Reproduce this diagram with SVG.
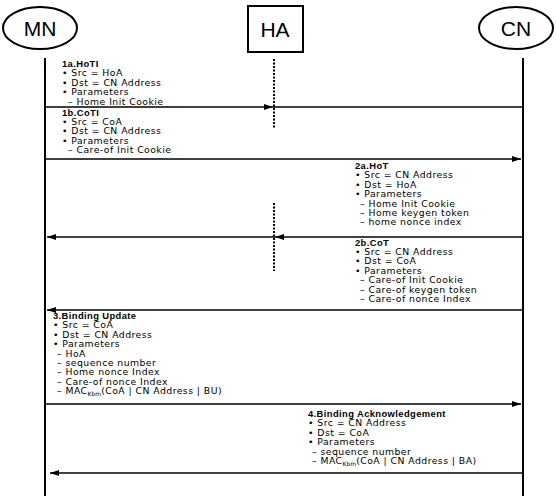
<svg xmlns="http://www.w3.org/2000/svg" width="556" height="496" viewBox="0 0 556 496">
<style>
.node{fill:#fff;stroke:#000;stroke-width:2}
.nt{font-family:"Liberation Sans",Arial,sans-serif;font-size:21px;fill:#000;text-anchor:middle}
.life{stroke:#000;stroke-width:2;fill:none}
.dot{stroke:#000;stroke-width:2;stroke-dasharray:2 1.5;fill:none}
.msg{stroke:#000;stroke-width:1.6;fill:none}
.t{font-family:"DejaVu Sans",Verdana,sans-serif;font-size:9.3px;letter-spacing:0.45px;fill:#000}
.h{font-family:"Liberation Sans",Arial,sans-serif;font-weight:bold;font-size:9.4px;letter-spacing:0.4px}
.sub{font-size:6px;letter-spacing:0}
</style>
<defs>
<marker id="ah" markerWidth="10" markerHeight="8" refX="9" refY="4" orient="auto" markerUnits="userSpaceOnUse">
<path d="M0,1 L9,4 L0,7 Z" fill="#000"/>
</marker>
</defs>
<g id="MN"><ellipse class="node" cx="40" cy="28" rx="37" ry="21"/><text class="nt" x="40" y="36">MN</text></g>
<g id="HA"><rect class="node" x="248" y="6" width="55" height="46"/><text class="nt" x="275" y="37">HA</text></g>
<g id="CN"><ellipse class="node" cx="516" cy="28" rx="37" ry="21"/><text class="nt" x="516" y="36">CN</text></g>
<g id="connectors">
<line class="life" x1="45" y1="58" x2="45" y2="496"/>
<line class="life" x1="523" y1="58" x2="523" y2="496"/>
<line class="dot" x1="274" y1="59" x2="274" y2="128"/>
<line class="dot" x1="274" y1="203" x2="274" y2="271"/>
<line class="msg" x1="45" y1="107" x2="273" y2="107" marker-end="url(#ah)"/>
<line class="msg" x1="273" y1="107" x2="523" y2="107"/>
<line class="msg" x1="45" y1="159" x2="521" y2="159" marker-end="url(#ah)"/>
<line class="msg" x1="523" y1="237" x2="275" y2="237" marker-end="url(#ah)"/>
<line class="msg" x1="275" y1="237" x2="47" y2="237" marker-end="url(#ah)"/>
<line class="msg" x1="523" y1="310" x2="47" y2="310" marker-end="url(#ah)"/>
<line class="msg" x1="45" y1="404" x2="521" y2="404" marker-end="url(#ah)"/>
<line class="msg" x1="523" y1="473" x2="50" y2="473" marker-end="url(#ah)"/>
</g>
<g id="label-1a">
<text class="t h" x="62" y="67">1a.HoTI</text>
<text class="t" x="62" y="76.4">• Src = HoA</text>
<text class="t" x="62" y="85.8">• Dst = CN Address</text>
<text class="t" x="62" y="95.2">• Parameters</text>
<text class="t" x="68" y="104.6">– Home Init Cookie</text>
</g>
<g id="label-1b">
<text class="t h" x="62" y="115.5">1b.CoTI</text>
<text class="t" x="62" y="124.9">• Src = CoA</text>
<text class="t" x="62" y="134.3">• Dst = CN Address</text>
<text class="t" x="62" y="143.7">• Parameters</text>
<text class="t" x="68" y="153.1">– Care-of Init Cookie</text>
</g>
<g id="label-2a">
<text class="t h" x="355" y="169">2a.HoT</text>
<text class="t" x="355" y="178.4">• Src = CN Address</text>
<text class="t" x="355" y="187.8">• Dst = HoA</text>
<text class="t" x="355" y="197.2">• Parameters</text>
<text class="t" x="360" y="206.6">– Home Init Cookie</text>
<text class="t" x="360" y="216">– Home keygen token</text>
<text class="t" x="360" y="225.4">– home nonce index</text>
</g>
<g id="label-2b">
<text class="t h" x="355" y="245.5">2b.CoT</text>
<text class="t" x="355" y="254.9">• Src = CN Address</text>
<text class="t" x="355" y="264.3">• Dst = CoA</text>
<text class="t" x="355" y="273.7">• Parameters</text>
<text class="t" x="360" y="283.1">– Care-of Init Cookie</text>
<text class="t" x="360" y="292.5">– Care-of keygen token</text>
<text class="t" x="360" y="301.9">– Care-of nonce Index</text>
</g>
<g id="label-3">
<text class="t h" x="53" y="319">3.Binding Update</text>
<text class="t" x="53" y="328.4">• Src = CoA</text>
<text class="t" x="53" y="337.8">• Dst = CN Address</text>
<text class="t" x="53" y="347.2">• Parameters</text>
<text class="t" x="57" y="356.6">– HoA</text>
<text class="t" x="57" y="366">– sequence number</text>
<text class="t" x="57" y="375.4">– Home nonce Index</text>
<text class="t" x="57" y="384.8">– Care-of nonce Index</text>
<text class="t" x="57" y="394.2">– MAC<tspan class="sub" dy="1.5">Kbm</tspan><tspan dy="-1.5">(CoA | CN Address | BU)</tspan></text>
</g>
<g id="label-4">
<text class="t h" x="308" y="417">4.Binding Acknowledgement</text>
<text class="t" x="308" y="426.4">• Src = CN Address</text>
<text class="t" x="308" y="435.8">• Dst = CoA</text>
<text class="t" x="308" y="445.2">• Parameters</text>
<text class="t" x="312" y="454.6">– sequence number</text>
<text class="t" x="312" y="464">– MAC<tspan class="sub" dy="1.5">Kbm</tspan><tspan dy="-1.5">(CoA | CN Address | BA)</tspan></text>
</g>
</svg>
